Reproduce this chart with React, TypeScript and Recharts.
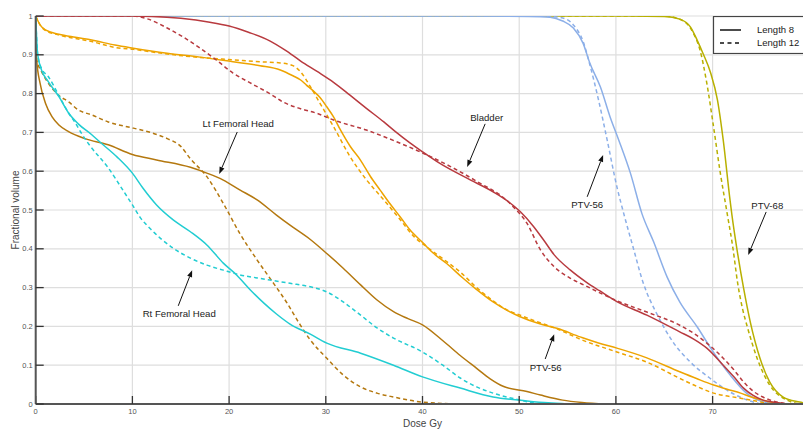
import { CartesianGrid, Legend, Line, LineChart, ReferenceDot, ReferenceLine, XAxis, YAxis } from "recharts";

type Pt = [number, number];

const doseTicks = [0, 10, 20, 30, 40, 50, 60, 70];
const volumeTicks = [0, 0.1, 0.2, 0.3, 0.4, 0.5, 0.6, 0.7, 0.8, 0.9, 1];

// DVH curves: [dose Gy, fractional volume]
const bladder8: Pt[] = [
  [0, 1], [10, 1], [12, 0.999], [15, 0.994], [18, 0.984], [20, 0.974], [22, 0.958], [24.2, 0.936],
  [25.8, 0.912], [27.4, 0.884], [29.1, 0.857], [30.8, 0.829], [32.5, 0.796], [34.2, 0.762], [36, 0.727],
  [37.2, 0.702], [38.7, 0.673], [40, 0.65], [41.8, 0.62], [44.6, 0.582], [47.3, 0.547], [48.7, 0.525],
  [50.1, 0.496], [51.5, 0.457], [52.6, 0.42], [53.6, 0.385], [55.3, 0.345], [57, 0.313], [58.3, 0.292],
  [60.1, 0.264], [63.2, 0.229], [66.6, 0.186], [68, 0.168], [69.4, 0.144], [71.1, 0.1], [72.2, 0.07],
  [73.2, 0.041], [74.2, 0.022], [75.2, 0.01], [76.5, 0.004], [78, 0],
];
const bladder12: Pt[] = [
  [0, 1], [10, 1], [11.5, 0.993], [13.6, 0.969], [15.3, 0.945], [17, 0.917], [18.7, 0.886], [20.4, 0.853],
  [22.3, 0.826], [24.2, 0.8], [25.6, 0.778], [27.4, 0.761], [29.1, 0.749], [30.8, 0.732], [34.2, 0.706],
  [37.7, 0.672], [40, 0.647], [42.9, 0.612], [46.3, 0.564], [48, 0.539], [49.4, 0.508], [50.8, 0.466],
  [52.2, 0.397], [53.6, 0.354], [55.3, 0.324], [57, 0.303], [60.1, 0.266], [63.2, 0.237], [66.6, 0.203],
  [68, 0.183], [69.4, 0.157], [71.1, 0.118], [72.2, 0.088], [73.2, 0.057], [74.2, 0.033], [75.2, 0.018],
  [76.5, 0.006], [78, 0],
];
const ptv56L8: Pt[] = [
  [0, 1], [0.45, 0.977], [1, 0.964], [2.4, 0.953], [4.1, 0.945], [5.8, 0.938], [8.2, 0.925], [10.1, 0.917],
  [13.6, 0.904], [17, 0.894], [20.4, 0.882], [23.2, 0.872], [25.3, 0.861], [26.6, 0.846], [27.4, 0.835],
  [28, 0.822], [28.7, 0.807], [29.4, 0.79], [30.1, 0.766], [30.8, 0.74], [31.5, 0.707], [32.5, 0.665],
  [33.6, 0.628], [34.6, 0.587], [35.6, 0.552], [36.7, 0.514], [37.7, 0.482], [38.7, 0.449], [40.1, 0.414],
  [41.1, 0.389], [42.5, 0.362], [44.2, 0.324], [45.6, 0.295], [47.3, 0.263], [48.7, 0.242], [50.1, 0.225],
  [52.2, 0.206], [53.9, 0.195], [56.3, 0.173], [58.2, 0.157], [60.1, 0.144], [63.2, 0.119], [66.6, 0.083],
  [68.4, 0.065], [70.1, 0.049], [71.5, 0.038], [72.9, 0.028], [74, 0.018], [75.2, 0.01], [76.2, 0.004],
  [77.5, 0],
];
const ptv56L12: Pt[] = [
  [0, 1], [0.45, 0.977], [1, 0.963], [2.4, 0.951], [4.1, 0.942], [5.8, 0.934], [8.2, 0.919], [10.1, 0.914],
  [13.6, 0.902], [17, 0.893], [20.4, 0.887], [23.2, 0.882], [25.3, 0.879], [26.6, 0.872], [27.4, 0.856],
  [28.4, 0.818], [29.4, 0.775], [30.8, 0.715], [32.5, 0.638], [34.2, 0.578], [36, 0.526], [37.7, 0.475],
  [39.1, 0.432], [40.5, 0.404], [42.5, 0.367], [43.9, 0.34], [45.6, 0.3], [47.3, 0.266], [48.7, 0.243],
  [50.1, 0.229], [51.1, 0.219], [53.9, 0.194], [56.3, 0.167], [60.1, 0.134], [63.2, 0.108], [66.6, 0.066],
  [68.4, 0.045], [70.1, 0.028], [72.9, 0.015], [75.2, 0.004], [76, 0],
];
const ptv56bL8: Pt[] = [
  [0, 1], [45, 1], [51, 0.999], [53.2, 0.997], [54.5, 0.987], [55.6, 0.969], [56.6, 0.93], [57.3, 0.879],
  [58.4, 0.817], [59.4, 0.74], [60.3, 0.68], [61.5, 0.595], [62.7, 0.49], [63.9, 0.418], [65.3, 0.327],
  [66.6, 0.263], [68.4, 0.199], [69.7, 0.148], [71.8, 0.075], [73.5, 0.028], [75.2, 0.006], [77, 0],
];
const ptv56bL12: Pt[] = [
  [0, 1], [45, 1], [52, 1], [53.2, 0.999], [54.5, 0.995], [55.6, 0.977], [56.6, 0.935], [57.3, 0.875],
  [58.2, 0.784], [59.1, 0.68], [60.1, 0.56], [60.8, 0.492], [61.8, 0.402], [62.8, 0.314], [64.3, 0.229],
  [65.9, 0.16], [67.7, 0.108], [69.7, 0.067], [71.8, 0.031], [73.6, 0.01], [75, 0],
];
const ptv68L8: Pt[] = [
  [0, 1], [60, 1], [65, 0.999], [66.6, 0.992], [67.7, 0.972], [68.4, 0.938], [69, 0.904], [69.8, 0.853],
  [70.5, 0.784], [71.1, 0.68], [71.8, 0.526], [72, 0.487], [72.5, 0.402], [73.2, 0.299], [73.9, 0.211],
  [74.9, 0.118], [75.9, 0.057], [77.3, 0.018], [79, 0.005], [80, 0],
];
const ptv68L12: Pt[] = [
  [0, 1], [60, 1], [65, 1], [67, 0.987], [68, 0.956], [68.7, 0.912], [69.4, 0.827], [70.1, 0.714],
  [70.8, 0.595], [71.5, 0.492], [72.1, 0.402], [72.6, 0.31], [73.1, 0.245], [73.6, 0.198], [74.6, 0.118],
  [75.9, 0.049], [77.7, 0.01], [79, 0],
];
const ltFemL8: Pt[] = [
  [0, 1], [0.1, 0.887], [0.45, 0.827], [1, 0.776], [1.7, 0.74], [2.4, 0.719], [3.4, 0.702], [5.1, 0.684],
  [7.5, 0.668], [10, 0.643], [12.5, 0.629], [16, 0.61], [17.7, 0.595], [19.4, 0.577], [21.1, 0.552],
  [22.9, 0.526], [24.9, 0.487], [26.3, 0.461], [28.4, 0.424], [30.1, 0.388], [31.8, 0.35], [33.6, 0.307],
  [35.3, 0.268], [37, 0.238], [38.5, 0.22], [40, 0.204], [42.2, 0.161], [43.9, 0.125], [45.6, 0.092],
  [47, 0.065], [48.4, 0.045], [50.8, 0.032], [52.2, 0.023], [54.5, 0.01], [56.5, 0.004], [59, 0],
];
const ltFemL12: Pt[] = [
  [0, 1], [0.1, 0.887], [0.6, 0.857], [1.3, 0.827], [2.4, 0.795], [3.4, 0.779], [4.4, 0.758], [5.8, 0.745],
  [7.5, 0.727], [10.1, 0.711], [12, 0.699], [13.6, 0.684], [15, 0.664], [16, 0.632], [17.7, 0.586],
  [19.4, 0.517], [21.1, 0.44], [22.9, 0.371], [24.6, 0.311], [26, 0.26], [27.2, 0.21], [28.4, 0.165],
  [30.1, 0.118], [31.8, 0.075], [33.6, 0.044], [35.3, 0.028], [37, 0.018], [40, 0.005], [44, 0],
];
const rtFemL8: Pt[] = [
  [0, 1], [0.2, 0.902], [0.6, 0.861], [1.3, 0.831], [2.4, 0.792], [3.4, 0.75], [4.4, 0.722], [5.8, 0.694],
  [6.7, 0.674], [8.4, 0.637], [10, 0.595], [11.1, 0.556], [12.5, 0.513], [14.25, 0.474], [16, 0.444],
  [17.7, 0.41], [19.4, 0.363], [20.8, 0.332], [22.2, 0.294], [23.6, 0.26], [24.9, 0.232], [26.3, 0.206],
  [28.4, 0.18], [30.1, 0.157], [33.6, 0.131], [37, 0.1], [40, 0.07], [43.9, 0.041], [47.3, 0.018],
  [50.8, 0.008], [53, 0.003], [55, 0],
];
const rtFemL12: Pt[] = [
  [0, 1], [0.2, 0.902], [0.6, 0.865], [1.3, 0.844], [2.4, 0.795], [3.4, 0.75], [4.1, 0.724], [4.8, 0.695],
  [5.6, 0.666], [7.4, 0.612], [9.1, 0.548], [10, 0.513], [10.8, 0.481], [11.8, 0.453], [12.9, 0.427],
  [14.25, 0.401], [16, 0.376], [17.7, 0.358], [19.4, 0.345], [21.1, 0.333], [22.9, 0.325], [24.6, 0.318],
  [26.3, 0.311], [28.4, 0.302], [30.1, 0.289], [31.8, 0.263], [33.6, 0.229], [35.3, 0.196], [37, 0.17],
  [40, 0.134], [42.1, 0.1], [43.9, 0.067], [45.6, 0.044], [47.3, 0.028], [50.1, 0.01], [52, 0],
];

const OLIVE = "#b8b000";
const BLUE = "#8cafe8";
const ORANGE = "#eea400";
const BROWN = "#b4780f";
const CYAN = "#22cdd2";
const RED = "#b83a3f";

const rows = (pts: Pt[]) => pts.map(([dose, vol]) => ({ dose, vol }));

// drawing order matters where curves overlap at 1.0
const series = [
  { key: "ptv68-8", pts: ptv68L8, color: OLIVE, dashed: false },
  { key: "ptv68-12", pts: ptv68L12, color: OLIVE, dashed: true },
  { key: "ptv56b-8", pts: ptv56bL8, color: BLUE, dashed: false },
  { key: "ptv56b-12", pts: ptv56bL12, color: BLUE, dashed: true },
  { key: "ptv56-8", pts: ptv56L8, color: ORANGE, dashed: false },
  { key: "ptv56-12", pts: ptv56L12, color: ORANGE, dashed: true },
  { key: "ltfem-8", pts: ltFemL8, color: BROWN, dashed: false },
  { key: "ltfem-12", pts: ltFemL12, color: BROWN, dashed: true },
  { key: "rtfem-8", pts: rtFemL8, color: CYAN, dashed: false },
  { key: "rtfem-12", pts: rtFemL12, color: CYAN, dashed: true },
  { key: "bladder-8", pts: bladder8, color: RED, dashed: false },
  { key: "bladder-12", pts: bladder12, color: RED, dashed: true },
];

// text anchor, arrow tail, arrow head (all in dose / volume units)
const annotations: { text: string; at: Pt; from: Pt; to: Pt }[] = [
  { text: "Lt Femoral Head", at: [20.94, 0.722], from: [20.84, 0.701], to: [18.98, 0.593] },
  { text: "Bladder", at: [46.64, 0.737], from: [46.48, 0.722], to: [44.62, 0.611] },
  { text: "PTV-56", at: [57.03, 0.513], from: [57.03, 0.534], to: [58.68, 0.642] },
  { text: "PTV-68", at: [75.65, 0.51], from: [75.54, 0.495], to: [73.68, 0.384] },
  { text: "Rt Femoral Head", at: [14.84, 0.232], from: [14.74, 0.253], to: [16.18, 0.345] },
  { text: "PTV-56", at: [52.74, 0.095], from: [52.69, 0.116], to: [53.62, 0.18] },
];

const FONT = "'Liberation Sans', Arial, sans-serif";

function Arrow(props: any) {
  const { x1, y1, x2, y2 } = props;
  const a = Math.atan2(y2 - y1, x2 - x1);
  const bx = x2 - 7 * Math.cos(a);
  const by = y2 - 7 * Math.sin(a);
  const px = -Math.sin(a) * 2.6;
  const py = Math.cos(a) * 2.6;
  return (
    <g>
      <line x1={x1} y1={y1} x2={bx} y2={by} stroke="#111" strokeWidth={1} />
      <polygon points={`${x2},${y2} ${bx + px},${by + py} ${bx - px},${by - py}`} fill="#111" />
    </g>
  );
}

function LegendBox() {
  return (
    <svg width={96} height={38} style={{ display: "block" }}>
      <rect x={0.5} y={0.5} width={95} height={37} fill="#fff" stroke="#444" strokeWidth={1.2} />
      <line x1={7} y1={14} x2={28} y2={14} stroke="#111" strokeWidth={1.5} />
      <line x1={7} y1={27} x2={28} y2={27} stroke="#111" strokeWidth={1.5} strokeDasharray="4 3.5" />
      <text x={44} y={17.4} fontSize={9.5} fontFamily={FONT} fill="#222">Length 8</text>
      <text x={44} y={30.4} fontSize={9.5} fontFamily={FONT} fill="#222">Length 12</text>
    </svg>
  );
}

export default function App() {
  return (
    <div style={{ position: "absolute", left: 0, top: 0, width: 803, height: 430, overflow: "hidden", background: "#fff" }}>
      <LineChart width={815} height={430} margin={{ top: 16, right: 5.7, left: 0, bottom: 0 }} style={{ fontFamily: FONT }}>
        <CartesianGrid stroke="#dedede" strokeWidth={1.2} horizontalValues={volumeTicks} verticalValues={doseTicks} />
        <XAxis
          type="number"
          dataKey="dose"
          domain={[0, 80]}
          ticks={doseTicks}
          interval={0}
          allowDataOverflow
          height={26}
          tickSize={-8}
          tickMargin={13}
          axisLine={{ stroke: "#555", strokeWidth: 2 }}
          tickLine={{ stroke: "#333", strokeWidth: 1.3 }}
          tick={{ fontSize: 7.5, fill: "#555" }}
          label={{ value: "Dose Gy", position: "insideBottom", offset: 3, fontSize: 10, fill: "#444" }}
        />
        <YAxis
          type="number"
          dataKey="vol"
          domain={[0, 1]}
          ticks={volumeTicks}
          interval={0}
          allowDataOverflow
          width={35.7}
          tickSize={-8}
          tickMargin={11}
          axisLine={{ stroke: "#555", strokeWidth: 2 }}
          tickLine={{ stroke: "#333", strokeWidth: 1.3 }}
          tick={{ fontSize: 7.5, fill: "#555" }}
          label={{ value: "Fractional volume", angle: -90, position: "insideLeft", offset: 15, fontSize: 10, fill: "#444", style: { textAnchor: "middle" } }}
        />
        {series.map((s) => (
          <Line
            key={s.key}
            data={rows(s.pts)}
            dataKey="vol"
            type="monotone"
            stroke={s.color}
            strokeWidth={1.5}
            strokeDasharray={s.dashed ? "4 3" : undefined}
            dot={false}
            activeDot={false}
            isAnimationActive={false}
          />
        ))}
        {annotations.map((a, i) => (
          <ReferenceLine
            key={`arrow-${i}`}
            segment={[{ x: a.from[0], y: a.from[1] }, { x: a.to[0], y: a.to[1] }]}
            shape={Arrow}
          />
        ))}
        {annotations.map((a, i) => (
          <ReferenceDot
            key={`text-${i}`}
            x={a.at[0]}
            y={a.at[1]}
            r={0}
            shape={(p: any) => (
              <text x={p.cx} y={p.cy} dy="0.35em" textAnchor="middle" fontSize={9.6} fontFamily={FONT} fill="#222">
                {a.text}
              </text>
            )}
          />
        ))}
        <Legend
          layout="horizontal"
          align="center"
          verticalAlign="middle"
          width={96}
          height={38}
          wrapperStyle={{ left: 713, top: 15.5, width: 96, height: 38 }}
          content={() => <LegendBox />}
        />
      </LineChart>
    </div>
  );
}
